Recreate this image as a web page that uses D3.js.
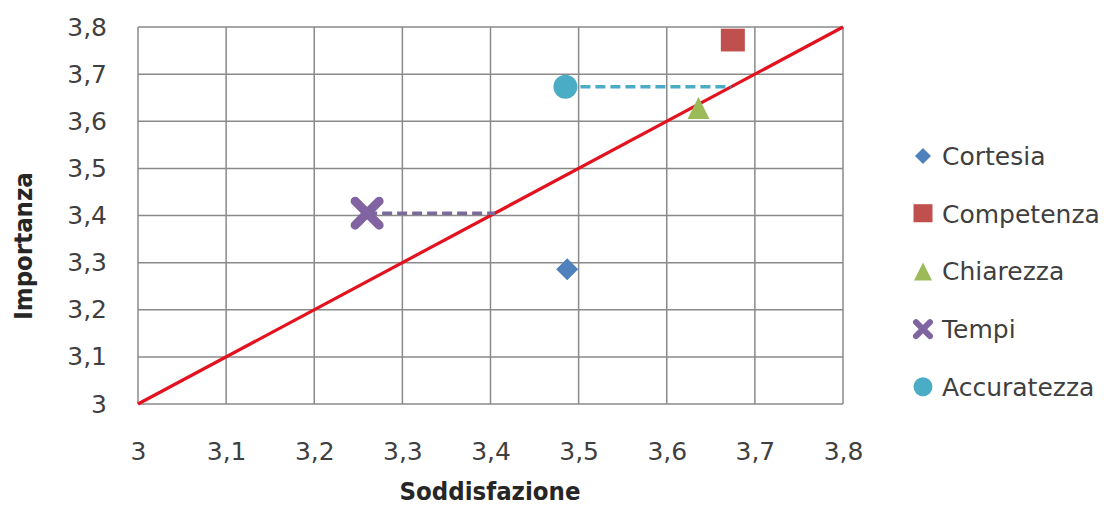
<!DOCTYPE html>
<html>
<head>
<meta charset="utf-8">
<script src="https://cdn.jsdelivr.net/npm/d3@7"></script>
<style>
  html, body { margin: 0; padding: 0; background: #ffffff; }
  svg { display: block; }
  text { font-family: "DejaVu Sans", Verdana, sans-serif; }
</style>
</head>
<body>
<svg id="chart" width="1104" height="505"></svg>
<script>
// Satisfaction (x) vs importance (y) per quality dimension
const categories = ["Cortesia", "Competenza", "Chiarezza", "Tempi", "Accuratezza"];
const soddisfazione = [3.487, 3.675, 3.636, 3.26, 3.485];
const importanza = [3.286, 3.771, 3.628, 3.405, 3.673];
const colors = ["#4f81bd", "#c0504d", "#9bbb59", "#8064a2", "#4bacc6"];
const shapes = ["diamond", "square", "triangle", "cross", "circle"];
// Dimensions whose gap to the diagonal is highlighted with a dashed line
const gapSeries = ["Tempi", "Accuratezza"];
const gapColors = ["#7b6a9c", "#4bacc6"];
const xTicks = [3, 3.1, 3.2, 3.3, 3.4, 3.5, 3.6, 3.7, 3.8];
const yTicks = [3, 3.1, 3.2, 3.3, 3.4, 3.5, 3.6, 3.7, 3.8];
const diagonal = [3, 3.8];

const svg = d3.select("#chart");
const plot = { left: 138, right: 843, top: 27, bottom: 404 };

const x = d3.scaleLinear().domain([3, 3.8]).range([plot.left, plot.right]);
const y = d3.scaleLinear().domain([3, 3.8]).range([plot.bottom, plot.top]);
const fmt = d => d3.format(".1~f")(d).replace(".", ",");

const gridColor = "#8a8a8a";
const textColor = "#3f3f3f";

// Grid lines
svg.append("g").selectAll("line").data(xTicks).join("line")
  .attr("x1", d => x(d)).attr("x2", d => x(d))
  .attr("y1", plot.top).attr("y2", plot.bottom)
  .attr("stroke", gridColor).attr("stroke-width", 1.5);
svg.append("g").selectAll("line").data(yTicks).join("line")
  .attr("x1", plot.left).attr("x2", plot.right)
  .attr("y1", d => y(d)).attr("y2", d => y(d))
  .attr("stroke", gridColor).attr("stroke-width", 1.5);

// Axes (tick labels only)
const xAxis = svg.append("g")
  .attr("transform", `translate(0,${plot.bottom})`)
  .call(d3.axisBottom(x).tickValues(xTicks).tickFormat(fmt).tickSize(0).tickPadding(38));
const yAxis = svg.append("g")
  .attr("transform", `translate(${plot.left},0)`)
  .call(d3.axisLeft(y).tickValues(yTicks).tickFormat(fmt).tickSize(0).tickPadding(31));
[xAxis, yAxis].forEach(a => {
  a.select(".domain").remove();
  a.selectAll("text")
    .attr("fill", textColor)
    .style("font-family", "'DejaVu Sans', Verdana, sans-serif")
    .style("font-size", "25px");
});

// Diagonal reference line (importance = satisfaction)
svg.append("line")
  .attr("x1", x(diagonal[0])).attr("y1", y(diagonal[0]))
  .attr("x2", x(diagonal[1])).attr("y2", y(diagonal[1]))
  .attr("stroke", "#e3121e").attr("stroke-width", 3.2);

// Dashed gap lines from the point to the diagonal at the same importance
gapSeries.forEach((name, k) => {
  const i = categories.indexOf(name);
  svg.append("line")
    .attr("x1", x(soddisfazione[i])).attr("y1", y(importanza[i]))
    .attr("x2", x(importanza[i])).attr("y2", y(importanza[i]))
    .attr("stroke", gapColors[k])
    .attr("stroke-width", 3.5)
    .attr("stroke-dasharray", "10,5");
});

// Marker drawing helper
function drawMarker(g, shape, color, s) {
  if (shape === "diamond") {
    g.append("path").attr("d", `M0,${-s/2}L${s/2},0L0,${s/2}L${-s/2},0Z`).attr("fill", color);
  } else if (shape === "square") {
    g.append("rect").attr("x", -s/2).attr("y", -s/2).attr("width", s).attr("height", s * 0.95).attr("fill", color);
  } else if (shape === "triangle") {
    g.append("path").attr("d", `M0,${-s/2}L${s/2},${s/2}L${-s/2},${s/2}Z`).attr("fill", color);
  } else if (shape === "cross") {
    const h = s / 2 - 3;
    g.append("path").attr("d", `M${-h},${-h}L${h},${h}M${h},${-h}L${-h},${h}`)
      .attr("stroke", color).attr("stroke-width", s * 0.3).attr("stroke-linecap", "round");
  } else if (shape === "circle") {
    g.append("circle").attr("r", s / 2).attr("fill", color);
  }
}

const markerSize = { diamond: 22, square: 24, triangle: 22, cross: 30, circle: 24 };
categories.forEach((c, i) => {
  const g = svg.append("g").attr("transform", `translate(${x(soddisfazione[i])},${y(importanza[i])})`);
  drawMarker(g, shapes[i], colors[i], markerSize[shapes[i]]);
});

// Legend
const legendSize = { diamond: 16, square: 19, triangle: 18, cross: 20, circle: 19 };
const legend = svg.append("g").attr("transform", "translate(923,156)");
categories.forEach((c, i) => {
  const row = legend.append("g").attr("transform", `translate(0,${i * 57.7})`);
  drawMarker(row, shapes[i], colors[i], legendSize[shapes[i]]);
  row.append("text")
    .attr("x", 19).attr("y", 0).attr("dy", "0.36em")
    .attr("fill", textColor)
    .style("font-size", "25px")
    .text(c);
});

// Axis titles
svg.append("text")
  .attr("x", 490).attr("y", 500)
  .attr("text-anchor", "middle")
  .attr("fill", "#262626")
  .style("font-family", "'DejaVu Sans Condensed', 'DejaVu Sans', sans-serif")
  .style("font-weight", "bold")
  .style("font-size", "25.5px")
  .text("Soddisfazione");
svg.append("text")
  .attr("transform", "translate(32,246) rotate(-90)")
  .attr("text-anchor", "middle")
  .attr("fill", "#262626")
  .style("font-family", "'DejaVu Sans Condensed', 'DejaVu Sans', sans-serif")
  .style("font-weight", "bold")
  .style("font-size", "25.5px")
  .text("Importanza");
</script>
</body>
</html>
